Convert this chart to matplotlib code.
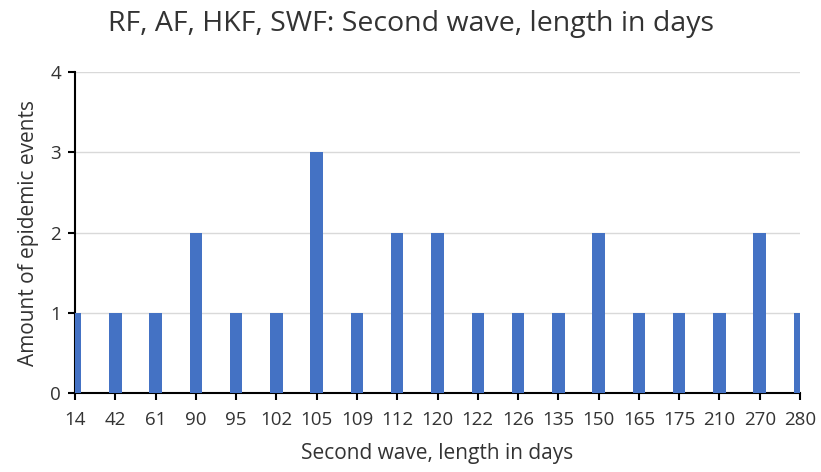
import matplotlib
matplotlib.use("Agg")
import matplotlib.pyplot as plt
import numpy as np

categories = ["14", "42", "61", "90", "95", "102", "105", "109", "112", "120",
              "122", "126", "135", "150", "165", "175", "210", "270", "280"]
counts = [1, 1, 1, 2, 1, 1, 3, 1, 2, 2, 1, 1, 1, 2, 1, 1, 1, 2, 1]
yticks = [0, 1, 2, 3, 4]

plt.rcParams['font.family'] = ['Open Sans', 'DejaVu Sans']

W, H = 821, 472
fig = plt.figure(figsize=(W/100, H/100), dpi=100)
ax = fig.add_axes([75/W, 1-393/H, (800-75)/W, (393-72)/H])

x = np.arange(len(categories))
ax.bar(x, counts, width=0.31, color="#4472C4", zorder=3, clip_on=True)
ax.set_xlim(0, len(categories)-1)
ax.set_ylim(0, 4)
ax.set_xticks(x)
ax.set_xticklabels(categories, fontsize=13.5, color="#333333")
ax.set_yticks(yticks)
ax.set_yticklabels([str(v) for v in yticks], fontsize=13.5, color="#333333")
ax.yaxis.grid(True, color="#d9d9d9", linewidth=1, zorder=0)
ax.set_axisbelow(True)
for s in ["top", "right"]:
    ax.spines[s].set_visible(False)
for s in ["left", "bottom"]:
    ax.spines[s].set_color("black")
    ax.spines[s].set_linewidth(1.5)
ax.tick_params(axis="both", direction="out", length=5, width=1.5, color="black")
ax.tick_params(axis="x", pad=8)
ax.tick_params(axis="y", pad=5)

ax.set_xlabel("Second wave, length in days", fontsize=15, color="#333333", labelpad=10)
ax.set_ylabel("Amount of epidemic events", fontsize=15, color="#333333", labelpad=8)
fig.text(411/W, 1-24/H, "RF, AF, HKF, SWF: Second wave, length in days",
         fontsize=20.5, color="#333333", ha="center", va="center")

fig.savefig("out.png", dpi=100)
